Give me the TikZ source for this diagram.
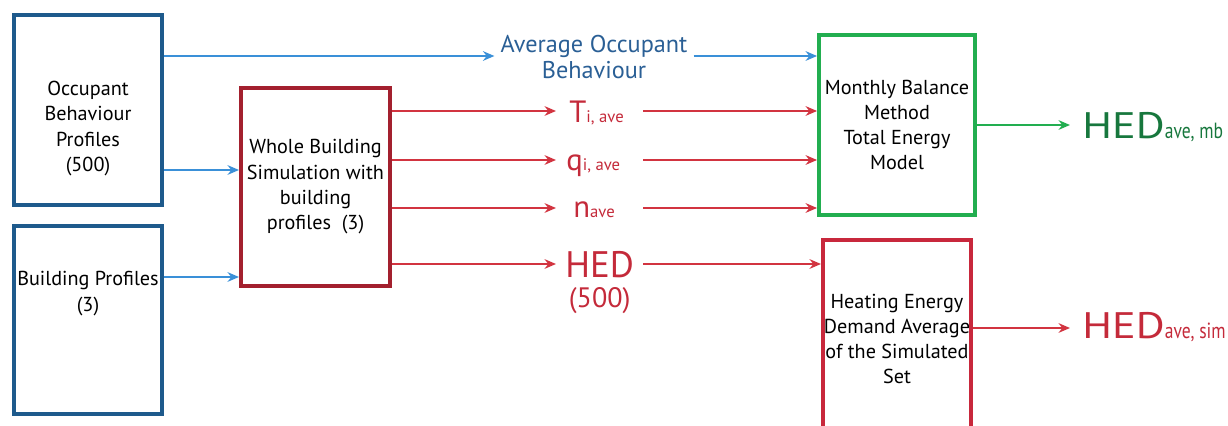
\documentclass[tikz,border=0pt]{standalone}
\usepackage{fontspec}
\setmainfont{PT Sans}
\usepackage{graphicx}
\usepackage{tikz}
\usetikzlibrary{arrows.meta, positioning, calc}

\definecolor{boxblue}{HTML}{1E5A8C}
\definecolor{lineblue}{HTML}{3A90D8}
\definecolor{textblue}{HTML}{2A5F95}
\definecolor{boxred}{HTML}{A3202E}
\definecolor{heatred}{HTML}{C8283C}
\definecolor{linered}{HTML}{D23440}
\definecolor{textred}{HTML}{C42A3A}
\definecolor{boxgreen}{HTML}{22AE50}
\definecolor{textgreen}{HTML}{17773D}

\begin{document}
\begin{tikzpicture}[x=0.02cm, y=-0.02cm,
		box/.style={draw, line width=2.3pt, minimum width=148*0.02cm},
		boxtext/.style={align=center, font=\fontsize{11.5}{14.4}\selectfont},
		outlabel/.style={inner sep=0pt, anchor=base west},
		flow/.style={line width=1.6pt, -{Stealth[length=6.5pt, width=5.5pt]}}]
	\useasboundingbox (0,0) rectangle (1228,426);

	% rows and columns of the connectors
	\coordinate (rowavg) at (0,56);
	\coordinate (rowocc) at (0,170);
	\coordinate (rowbp) at (0,277);
	\coordinate (rowt) at (0,111);
	\coordinate (rowq) at (0,160);
	\coordinate (rown) at (0,208);
	\coordinate (rowhed) at (0,264);
	\coordinate (rowsim) at (0,328);
	\coordinate (tipcol) at (556,0);
	\coordinate (outcol) at (643,0);
	\coordinate (endcol) at (1070,0);

	% boxes
	\node[box, draw=boxblue, minimum height=190*0.02cm] (occ) at (88,110) {};
	\node[boxtext] (occtext) at (88,128.5) {Occupant\\Behaviour\\Profiles\\(500)};
	\node[box, draw=boxblue, minimum height=188*0.02cm] (bp) at (88,320) {};
	\node[boxtext] (bptext) at (88,293.5) {Building Profiles\\(3)};
	\node[box, boxtext, draw=boxred, minimum width=149*0.02cm, minimum height=198*0.02cm] (wb) at (315.5,187) {Whole Building\\Simulation with\\building\\profiles\ \ (3)};
	\node[box, boxtext, draw=boxgreen, minimum height=180*0.02cm] (mb) at (897,125) {Monthly Balance\\Method\\Total Energy\\Model};
	\node[box, draw=heatred, minimum height=200*0.02cm] (heat) at (897,340) {};
	\node[boxtext] (heattext) at (897,339) {Heating Energy\\Demand Average\\of the Simulated\\Set};

	% labels
	\node[align=center, text=textblue, font=\fontsize{13.8}{14.8}\selectfont] (avg) at (594,57.5) {Average Occupant\\Behaviour};
	\begin{scope}[text=textred]
		\node[outlabel] (ti) at (569,122) {\fontsize{17.5}{17}\selectfont T\fontsize{9.5}{9}\selectfont i, ave};
		\node[outlabel] (qi) at (566,170) {\fontsize{17.5}{17}\selectfont q\fontsize{9.5}{9}\selectfont i, ave};
		\node[outlabel] (nave) at (573,217) {\fontsize{17.5}{17}\selectfont n\fontsize{9.5}{9}\selectfont ave};
		\node[outlabel] (hed) at (565,277) {\fontsize{21}{21}\selectfont HED};
		\node[inner sep=0pt, anchor=base, font=\fontsize{16}{16}\selectfont] (hedn) at ($(hed.base)+(0,30)$) {(500)};
		\node[outlabel] (hedsim) at (1082,338) {\scalebox{1.2}[1]{\fontsize{21}{21}\selectfont HED}\scalebox{0.8}[1]{\fontsize{12.5}{12}\selectfont ave, sim}};
	\end{scope}
	\node[outlabel, text=textgreen] (hedmb) at (1082,138) {\scalebox{1.2}[1]{\fontsize{21}{21}\selectfont HED}\scalebox{0.8}[1]{\fontsize{12.5}{12}\selectfont ave, mb}};

	% connectors
	\begin{scope}[flow, draw=lineblue]
		\draw (occ.east |- rowavg) -- (avg.west |- rowavg);
		\draw (avg.east |- rowavg) -- (mb.west |- rowavg);
		\draw (occ.east |- rowocc) -- (wb.west |- rowocc);
		\draw (bp.east |- rowbp) -- (wb.west |- rowbp);
	\end{scope}
	\begin{scope}[flow, draw=linered]
		\foreach \row in {rowt, rowq, rown, rowhed} {
			\draw (wb.east |- \row) -- (tipcol |- \row);
		}
		\foreach \row in {rowt, rowq, rown} {
			\draw (outcol |- \row) -- (mb.west |- \row);
		}
		\draw (outcol |- rowhed) -- (heat.west |- rowhed);
		\draw (heat.east |- rowsim) -- (endcol |- rowsim);
	\end{scope}
	\draw[flow, draw=boxgreen] (mb.east) -- (endcol |- mb.east);
\end{tikzpicture}
\end{document}
